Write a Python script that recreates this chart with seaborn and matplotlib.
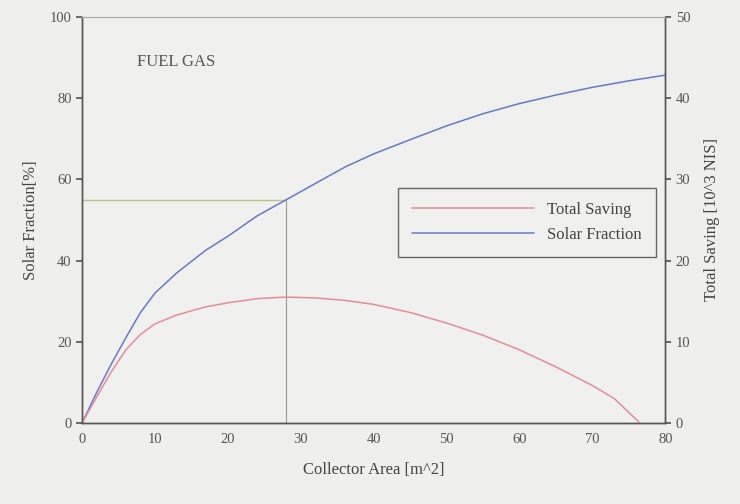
import matplotlib
matplotlib.use("Agg")
import matplotlib.pyplot as plt
import seaborn as sns
import pandas as pd
from matplotlib.lines import Line2D

area = [0, 2, 4, 6, 8, 10, 13, 17, 20, 24, 28, 32, 36, 40, 45, 50, 55, 60, 65, 70, 75, 80]
solar_fraction = [0, 7.5, 14.5, 21, 27.2, 32, 37, 42.6, 46, 51, 55, 59, 63, 66.3, 69.8, 73.2, 76.2, 78.7, 80.8, 82.7, 84.3, 85.7]

area_ts = [0, 2, 4, 6, 8, 10, 13, 17, 20, 24, 28, 32, 36, 40, 45, 50, 55, 60, 65, 70, 73, 76.5]
total_saving = [0, 3.2, 6.3, 9.0, 10.9, 12.2, 13.3, 14.3, 14.8, 15.3, 15.5, 15.4, 15.1, 14.6, 13.6, 12.3, 10.8, 9.0, 6.9, 4.6, 3.0, 0]

x_ticks = [0, 10, 20, 30, 40, 50, 60, 70, 80]
left_ticks = [0, 20, 40, 60, 80, 100]
right_ticks = [0, 10, 20, 30, 40, 50]
mark_x = 28
mark_y = 55

sns.set_theme(style="white")
plt.rcParams['font.family'] = ['Liberation Serif', 'DejaVu Serif']

df_sf = pd.DataFrame({"area": area, "sf": solar_fraction})
df_ts = pd.DataFrame({"area": area_ts, "ts": total_saving})

fig = plt.figure(figsize=(7.4, 5.04), dpi=100, facecolor="#efefee")
ax = fig.add_axes([0.111, 0.161, 0.788, 0.805])
ax.set_facecolor("#f0f0ef")
ax2 = ax.twinx()

blue = "#6a78c8"
red = "#e88a9a"

sns.lineplot(data=df_sf, x="area", y="sf", ax=ax, color=blue, lw=1.1)
sns.lineplot(data=df_ts, x="area", y="ts", ax=ax2, color=red, lw=1.1)

ax.plot([0, mark_x], [mark_y, mark_y], color="#b8c48a", lw=1.0, zorder=1)
ax.plot([mark_x, mark_x], [0, mark_y], color="#9a9a9a", lw=0.8, zorder=1)

ax.set_xlim(0, 80)
ax.set_ylim(0, 100)
ax2.set_ylim(0, 50)
ax.set_xticks(x_ticks)
ax.set_yticks(left_ticks)
ax2.set_yticks(right_ticks)

ax.tick_params(axis="x", direction="in", length=4, labelsize=10.5, colors="#555555", pad=7)
ax.tick_params(axis="y", direction="out", length=4, labelsize=10.5, colors="#555555", left=True)
ax2.tick_params(axis="y", direction="out", length=4, labelsize=10.5, colors="#555555", right=True)

for a in (ax, ax2):
    for s in ["left", "bottom", "right"]:
        a.spines[s].set_color("#555555")
        a.spines[s].set_linewidth(1.0)
    a.spines["top"].set_color("#aaaaaa")
    a.spines["top"].set_linewidth(0.8)

ax.set_xlabel("Collector Area [m^2]", fontsize=12, color="#444444", labelpad=12)
ax.set_ylabel("Solar Fraction[%]", fontsize=12, color="#444444", labelpad=8)
ax2.set_ylabel("Total Saving [10^3 NIS]", fontsize=12, color="#444444", labelpad=10)

ax.text(7.5, 89, "FUEL GAS", fontsize=12, color="#555555", va="center", ha="left")

handles = [Line2D([], [], color=red, lw=1.1), Line2D([], [], color=blue, lw=1.1)]
leg = ax.legend(handles, ["Total Saving", "Solar Fraction"], loc="upper left",
                bbox_to_anchor=(0.542, 0.579), borderaxespad=0, frameon=True, fancybox=False,
                fontsize=12, handlelength=7.3, handletextpad=0.8, borderpad=0.85, labelspacing=0.55)
leg.get_frame().set_edgecolor("#444444")
leg.get_frame().set_facecolor("#f0f0ef")
leg.get_frame().set_linewidth(1.0)
for t in leg.get_texts():
    t.set_color("#444444")

fig.savefig("out.png", dpi=100, facecolor=fig.get_facecolor())
